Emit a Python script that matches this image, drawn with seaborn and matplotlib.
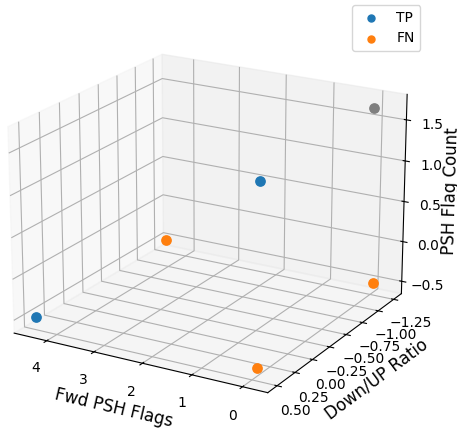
import matplotlib
matplotlib.use('Agg')
import matplotlib.pyplot as plt
import seaborn as sns

# points (Fwd PSH Flags, Down/UP Ratio, PSH Flag Count)
tp_fwd = [4.45, 2.15]
tp_ratio = [0.5, -1.1]
tp_psh = [-0.5, 0.6]

fn_fwd = [-0.1, -0.05, 4.45]
fn_ratio = [0.5, -1.25, -1.25]
fn_psh = [-0.5, -0.5, -0.5]

other_fwd = [0.0]
other_ratio = [-1.25]
other_psh = [1.65]

palette = sns.color_palette('tab10')

fig = plt.figure(figsize=(4.57, 4.34), dpi=100)
ax = fig.add_axes([-0.06, -0.02, 1.02, 1.03], projection='3d')
ax.scatter(tp_fwd, tp_ratio, tp_psh, color=palette[0], s=45, label='TP', depthshade=False)
ax.scatter(fn_fwd, fn_ratio, fn_psh, color=palette[1], s=45, label='FN', depthshade=False)
ax.scatter(other_fwd, other_ratio, other_psh, color=palette[7], s=45, depthshade=False)
ax.set_xlim(-0.49, 4.7)
ax.view_init(elev=20, azim=120)
ax.set_xlabel('Fwd PSH Flags', fontsize=12)
ax.set_ylabel('Down/UP Ratio', fontsize=12)
ax.set_zlabel('PSH Flag Count', fontsize=12, labelpad=0)
ax.tick_params(labelsize=10)
fig.legend(loc='upper left', bbox_to_anchor=(352 / 457, 1 - 5 / 434), borderaxespad=0,
           fontsize=10, markerscale=0.75)

plt.savefig('out.png', dpi=100)
